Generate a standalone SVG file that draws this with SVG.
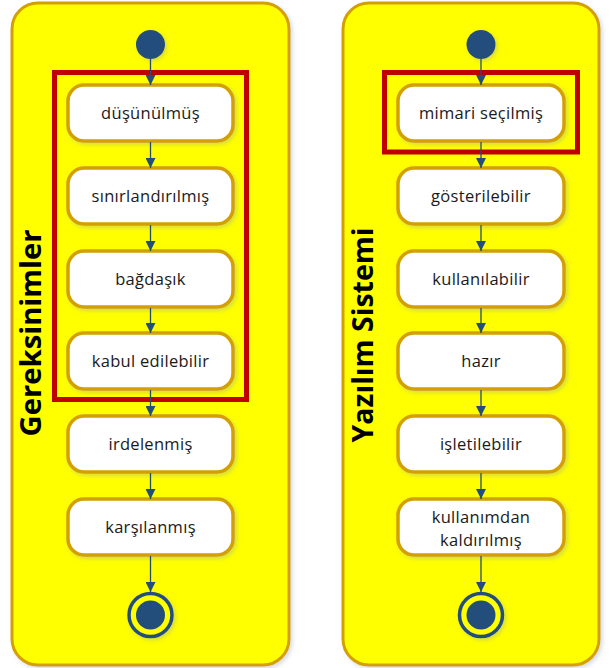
<svg xmlns="http://www.w3.org/2000/svg" width="610" height="668" viewBox="0 0 610 668">
<defs>
<filter id="sh" x="-10%" y="-10%" width="130%" height="130%"><feDropShadow dx="2" dy="2" stdDeviation="2" flood-color="#8899aa" flood-opacity="0.35"/></filter>
<marker id="ah" viewBox="0 0 10 10" refX="10" refY="5" markerWidth="10" markerHeight="10" markerUnits="userSpaceOnUse" orient="auto"><path d="M0,0 L10,5 L0,10 z" fill="#234E7B"/></marker>
</defs>
<style>
.panel{fill:#FFFF00;stroke:#D4A000;stroke-width:3}
.node rect{fill:#fff;stroke:#D4A000;stroke-width:3.5}
.node text{font-family:"Open Sans","Liberation Sans",sans-serif;font-size:16.5px;letter-spacing:0.3px;fill:#1a1a1a;text-anchor:middle}
.title{font-family:"Open Sans","Liberation Sans",sans-serif;font-weight:bold;font-size:29px;fill:#000;text-anchor:middle}
.red{fill:none;stroke:#C00000;stroke-width:5}
.conn line{stroke:#234E7B;stroke-width:1.3;marker-end:url(#ah)}
.dot{fill:#234E7B}
</style>
<g id="laneLeft">
<rect class="panel" x="12" y="3" width="277" height="662" rx="26" filter="url(#sh)"/>
<text class="title" transform="translate(41,333) rotate(-90)" textLength="207" lengthAdjust="spacingAndGlyphs">Gereksinimler</text>
</g>
<g id="laneRight">
<rect class="panel" x="343" y="3" width="256" height="662" rx="26" filter="url(#sh)"/>
<text class="title" transform="translate(373,335) rotate(-90)" textLength="215" lengthAdjust="spacingAndGlyphs">Yazılım Sistemi</text>
</g>
<g id="startL"><circle class="dot" cx="150.5" cy="44.5" r="14.5" filter="url(#sh)"/></g>
<g id="startR"><circle class="dot" cx="481" cy="44.5" r="14.5" filter="url(#sh)"/></g>
<g id="n1" class="node"><rect x="68" y="85" width="165" height="56" rx="16" filter="url(#sh)"/><text x="150.5" y="119">düşünülmüş</text></g>
<g id="n2" class="node"><rect x="68" y="168" width="165" height="56" rx="16" filter="url(#sh)"/><text x="150.5" y="202">sınırlandırılmış</text></g>
<g id="n3" class="node"><rect x="68" y="251" width="165" height="56" rx="16" filter="url(#sh)"/><text x="150.5" y="285">bağdaşık</text></g>
<g id="n4" class="node"><rect x="68" y="333" width="165" height="56" rx="16" filter="url(#sh)"/><text x="150.5" y="367">kabul edilebilir</text></g>
<g id="n5" class="node"><rect x="68" y="416" width="165" height="56" rx="16" filter="url(#sh)"/><text x="150.5" y="450">irdelenmiş</text></g>
<g id="n6" class="node"><rect x="68" y="499" width="165" height="56" rx="16" filter="url(#sh)"/><text x="150.5" y="533">karşılanmış</text></g>
<g id="m1" class="node"><rect x="398" y="85" width="166" height="56" rx="16" filter="url(#sh)"/><text x="481" y="119">mimari seçilmiş</text></g>
<g id="m2" class="node"><rect x="398" y="168" width="166" height="56" rx="16" filter="url(#sh)"/><text x="481" y="202">gösterilebilir</text></g>
<g id="m3" class="node"><rect x="398" y="251" width="166" height="56" rx="16" filter="url(#sh)"/><text x="481" y="285">kullanılabilir</text></g>
<g id="m4" class="node"><rect x="398" y="333" width="166" height="56" rx="16" filter="url(#sh)"/><text x="481" y="367">hazır</text></g>
<g id="m5" class="node"><rect x="398" y="416" width="166" height="56" rx="16" filter="url(#sh)"/><text x="481" y="450">işletilebilir</text></g>
<g id="m6" class="node"><rect x="398" y="499" width="166" height="56" rx="16" filter="url(#sh)"/><text x="481" y="523">kullanımdan</text><text x="481" y="546">kaldırılmış</text></g>
<g id="endL"><circle cx="150.5" cy="615" r="21.5" fill="#FFFF00" stroke="#234E7B" stroke-width="3.5" filter="url(#sh)"/><circle class="dot" cx="150.5" cy="615" r="14.5"/></g>
<g id="endR"><circle cx="481" cy="615" r="21.5" fill="#FFFF00" stroke="#234E7B" stroke-width="3.5" filter="url(#sh)"/><circle class="dot" cx="481" cy="615" r="14.5"/></g>
<g id="groupL"><rect class="red" x="54.5" y="72.5" width="192" height="327"/></g>
<g id="groupR"><rect class="red" x="384.5" y="72.5" width="193" height="79.5"/></g>
<g id="connectors" class="conn">
<line x1="150.5" y1="59" x2="150.5" y2="85"/>
<line x1="150.5" y1="142" x2="150.5" y2="168"/>
<line x1="150.5" y1="225" x2="150.5" y2="251"/>
<line x1="150.5" y1="308" x2="150.5" y2="333"/>
<line x1="150.5" y1="390" x2="150.5" y2="416"/>
<line x1="150.5" y1="473" x2="150.5" y2="499"/>
<line x1="150.5" y1="556" x2="150.5" y2="592"/>
<line x1="481" y1="59" x2="481" y2="85"/>
<line x1="481" y1="142" x2="481" y2="168"/>
<line x1="481" y1="225" x2="481" y2="251"/>
<line x1="481" y1="308" x2="481" y2="333"/>
<line x1="481" y1="390" x2="481" y2="416"/>
<line x1="481" y1="473" x2="481" y2="499"/>
<line x1="481" y1="556" x2="481" y2="592"/>
</g>
</svg>
